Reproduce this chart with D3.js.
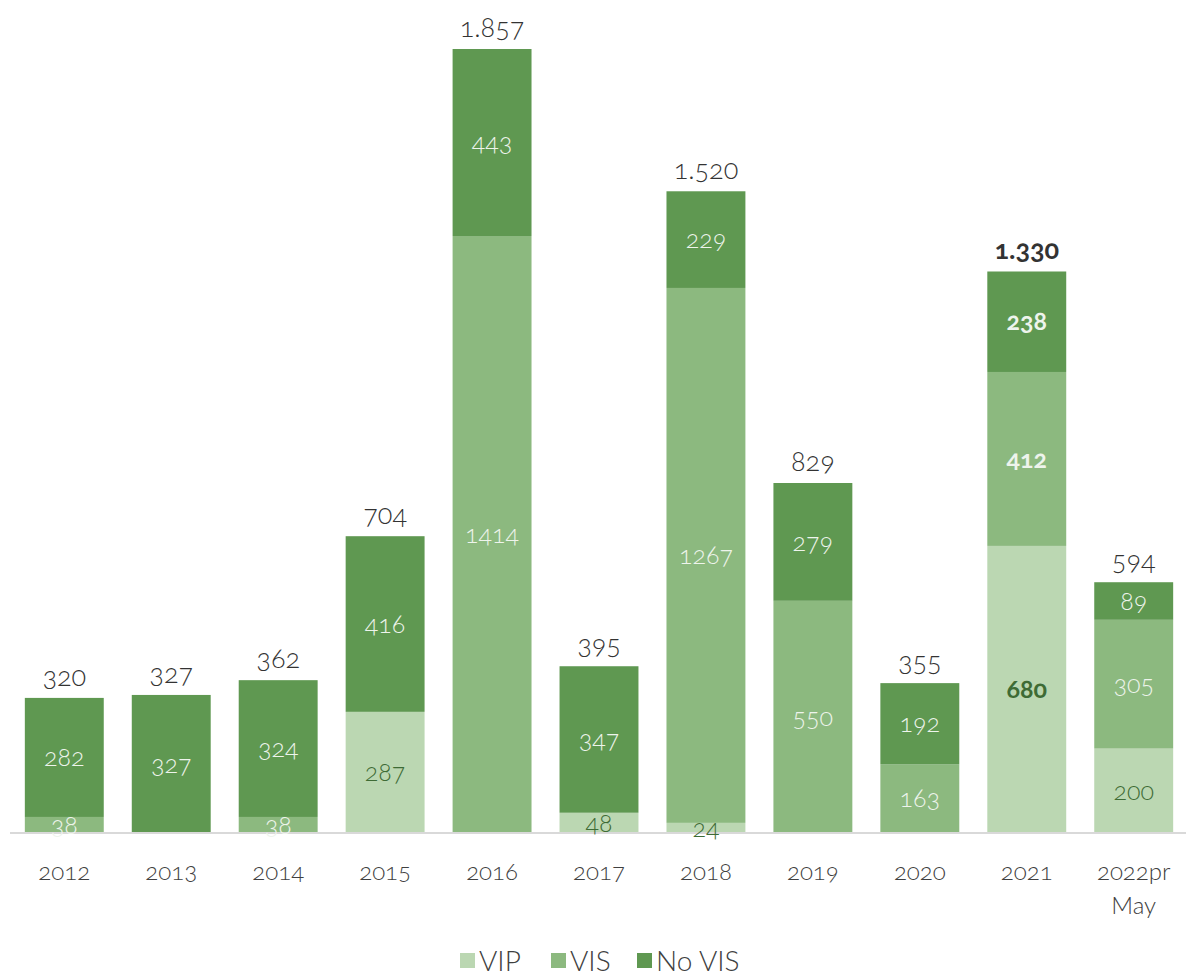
<!DOCTYPE html>
<html>
<head>
<meta charset="utf-8">
<script src="https://cdn.jsdelivr.net/npm/d3@7"></script>
<style>
  body { margin: 0; background: #fff; }
  svg text { font-family: Lato, "Open Sans", sans-serif; font-weight: 300; font-variant-numeric: oldstyle-nums; }
</style>
</head>
<body>
<svg id="chart"></svg>
<script>
// chart data
const years = ["2012", "2013", "2014", "2015", "2016", "2017", "2018", "2019", "2020", "2021", "2022pr May"];
const vip   = [0, 0, 0, 287, 0, 48, 24, 0, 0, 680, 200];
const vis   = [38, 0, 38, 0, 1414, 0, 1267, 550, 163, 412, 305];
const noVis = [282, 327, 324, 416, 443, 347, 229, 279, 192, 238, 89];
const totals = [320, 327, 362, 704, 1857, 395, 1520, 829, 355, 1330, 594];
const seriesNames = ["VIP", "VIS", "No VIS"];
const boldYear = "2021";

class StackedChart {
    margin = { top: 49, right: 0, bottom: 143, left: 12 }

    constructor(svg, width = 1174, height = 784) {
        this.svg = svg;
        this.width = width;
        this.height = height;
    }

    initialize() {
        this.svg = d3.select(this.svg)
            .attr("width", this.width + this.margin.left + this.margin.right)
            .attr("height", this.height + this.margin.top + this.margin.bottom);
        this.container = this.svg.append("g")
            .attr("transform", `translate(${this.margin.left}, ${this.margin.top})`);

        this.xScale = d3.scaleBand().domain(years).range([0, this.width]).paddingInner(0.262).paddingOuter(0.12);
        this.yScale = d3.scaleLinear().domain([0, 1857]).range([this.height, 0]);
        this.colors = d3.scaleOrdinal().domain(seriesNames).range(["#bbd7b2", "#8cb97f", "#5f9851"]);
    }

    update() {
        const rows = years.map((y, i) => ({ year: y, "VIP": vip[i], "VIS": vis[i], "No VIS": noVis[i] }));
        const stacked = d3.stack().keys(seriesNames)(rows);
        const x = this.xScale, y = this.yScale;

        const layers = this.container.selectAll("g.layer")
            .data(stacked)
            .join("g")
            .attr("class", "layer")
            .attr("fill", d => this.colors(d.key));

        layers.selectAll("rect")
            .data(d => d.filter(p => p[1] > p[0]))
            .join("rect")
            .attr("x", d => x(d.data.year))
            .attr("y", d => y(d[1]))
            .attr("width", x.bandwidth())
            .attr("height", d => y(d[0]) - y(d[1]));

        // axis baseline
        this.container.append("line")
            .attr("x1", -2).attr("x2", this.width)
            .attr("y1", this.height).attr("y2", this.height)
            .attr("stroke", "#d9d9d9").attr("stroke-width", 2);

        // segment labels
        const segs = [];
        stacked.forEach(s => s.forEach(p => {
            if (p[1] > p[0]) segs.push({ key: s.key, year: p.data.year, v: p[1] - p[0], y0: p[0], y1: p[1] });
        }));
        this.container.selectAll("text.seg")
            .data(segs)
            .join("text")
            .attr("class", "seg")
            .attr("x", d => x(d.year) + x.bandwidth() / 2)
            .attr("y", d => (y(d.y0) + y(d.y1)) / 2)
            .attr("dy", "0.35em")
            .attr("text-anchor", "middle")
            .attr("font-size", "25px")
            .style("font-weight", d => d.year === boldYear ? "bold" : null)
            .attr("fill", d => d.key === "VIP" ? "#3e6b35" : "#eef4ec")
            .text(d => d.v);

        // totals
        const fmt = v => d3.format(",")(v).replace(",", ".");
        this.container.selectAll("text.total")
            .data(years)
            .join("text")
            .attr("class", "total")
            .attr("x", d => x(d) + x.bandwidth() / 2)
            .attr("y", (d, i) => y(totals[i]) - 12)
            .attr("text-anchor", "middle")
            .attr("font-size", "27px")
            .style("font-weight", d => d === boldYear ? "bold" : null)
            .attr("fill", "#333")
            .text((d, i) => fmt(totals[i]));

        // category labels
        const xl = this.container.selectAll("text.xl")
            .data(years)
            .join("text")
            .attr("class", "xl")
            .attr("x", d => x(d) + x.bandwidth() / 2)
            .attr("y", this.height + 47)
            .attr("text-anchor", "middle")
            .attr("font-size", "24px")
            .attr("fill", "#404040");
        xl.selectAll("tspan")
            .data(d => d.split(" "))
            .join("tspan")
            .attr("x", function () { return d3.select(this.parentNode).attr("x"); })
            .attr("dy", (d, i) => i === 0 ? 0 : "1.4em")
            .text(d => d);

        this.addLegend();
    }

    addLegend() {
        const items = [{ name: "VIP", x: 460 }, { name: "VIS", x: 551 }, { name: "No VIS", x: 637 }];
        const g = this.svg.append("g").attr("class", "legend");
        const it = g.selectAll("g").data(items).join("g")
            .attr("transform", d => `translate(${d.x}, 961)`);
        it.append("rect")
            .attr("x", 0).attr("y", -8).attr("width", 15).attr("height", 15)
            .attr("fill", d => this.colors(d.name));
        it.append("text")
            .attr("x", 19).attr("y", 0).attr("dy", "0.35em")
            .attr("font-size", "28px")
            .attr("fill", "#404040")
            .text(d => d.name);
    }
}

const chart = new StackedChart(document.getElementById("chart"));
chart.initialize();
chart.update();
</script>
</body>
</html>
